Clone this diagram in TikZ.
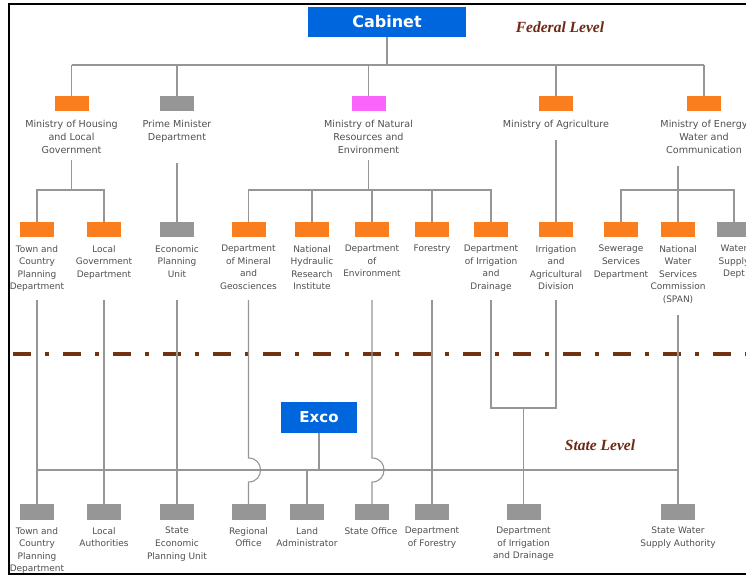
\documentclass[tikz,border=0pt]{standalone}
\usepackage{fontspec}
\setmainfont{DejaVu Sans}
\newfontfamily\titlefont{Liberation Serif}
\definecolor{orgbox}{RGB}{250,125,30}
\definecolor{greybox}{RGB}{150,150,150}
\definecolor{pinkbox}{RGB}{250,100,250}
\definecolor{bluebox}{RGB}{0,102,221}
\definecolor{linegrey}{RGB}{150,150,150}
\definecolor{txtgrey}{RGB}{80,80,80}
\definecolor{levelbrown}{RGB}{110,40,20}
\definecolor{dashbrown}{RGB}{115,50,15}
\begin{document}
\begin{tikzpicture}[x=1pt,y=-1pt,
  conn/.style={draw=linegrey, line width=1.1pt},
  ubox/.style={minimum width=34pt, minimum height=15pt, inner sep=0pt, fill=#1},
  lbox/.style={minimum width=34pt, minimum height=16pt, inner sep=0pt, fill=greybox},
  mlbl/.style={align=center, anchor=north, inner sep=0pt, text=txtgrey, font=\fontsize{9.6}{13}\selectfont},
  slbl/.style={align=center, anchor=north, inner sep=0pt, text=txtgrey, font=\fontsize{9}{12.6}\selectfont},
  head/.style={fill=bluebox, text=white, inner sep=0pt, font=\bfseries\fontsize{16}{18}\selectfont},
  levtxt/.style={inner sep=0pt, text=levelbrown, font=\titlefont\bfseries\itshape\fontsize{15.5}{18}\selectfont},
  ddash/.style={draw=dashbrown, line width=3.5pt, dash pattern=on 18pt off 14pt on 4pt off 14pt}
]
\useasboundingbox (0,0) rectangle (746,576);
\fill[white] (0,0) rectangle (746,576);

% ---------- Federal level
\node[head, minimum width=158pt, minimum height=30pt] (cab) at (387,22) {Cabinet};
\node[levtxt] (fed) at (560,27) {Federal Level};

\coordinate (busTL) at (71.5,65);
\coordinate (busTR) at (704,65);

\node[ubox=orgbox] (mHous) at (71.5,103.5) {};
\node[ubox=greybox] (mPM) at (177,103.5) {};
\node[ubox=pinkbox] (mNR) at (368.5,103.5) {};
\node[ubox=orgbox] (mAgr) at (556,103.5) {};
\node[ubox=orgbox] (mEn) at (704,103.5) {};

\node[mlbl] (tHous) at (71.5,120) {Ministry of Housing\\and Local\\Government};
\node[mlbl] (tPM) at (177,120) {Prime Minister\\Department};
\node[mlbl] (tNR) at (368.5,120) {Ministry of Natural\\Resources and\\Environment};
\node[mlbl] (tAgr) at (556,120) {Ministry of Agriculture};
\node[mlbl] (tEn) at (704,120) {Ministry of Energy\\Water and\\Communication};

\draw[conn] (cab.south) -- (cab.south |- busTL);
\draw[conn] (busTL) -- (busTR);
\foreach \n in {mHous,mPM,mNR,mAgr,mEn} \draw[conn] (\n.north) -- (\n.north |- busTL);

% ---------- departments
\node[ubox=orgbox] (sTC) at (37,229.5) {};
\node[ubox=orgbox] (sLG) at (104,229.5) {};
\node[ubox=greybox] (sEP) at (177,229.5) {};
\node[ubox=orgbox] (sMin) at (248.5,229.5) {};
\node[ubox=orgbox] (sNH) at (312,229.5) {};
\node[ubox=orgbox] (sEnv) at (372,229.5) {};
\node[ubox=orgbox] (sFor) at (432,229.5) {};
\node[ubox=orgbox] (sDID) at (491,229.5) {};
\node[ubox=orgbox] (sIAD) at (556,229.5) {};
\node[ubox=orgbox] (sSew) at (621,229.5) {};
\node[ubox=orgbox] (sSPAN) at (678,229.5) {};
\node[ubox=greybox] (sWSD) at (734,229.5) {};

\node[slbl] (tTC) at (37,245) {Town and\\Country\\Planning\\Department};
\node[slbl] (tLG) at (104,245) {Local\\Government\\Department};
\node[slbl] (tEP) at (177,245) {Economic\\Planning\\Unit};
\node[slbl] (tMin) at (248.5,245) {Department\\of Mineral\\and\\Geosciences};
\node[slbl] (tNH) at (312,245) {National\\Hydraulic\\Research\\Institute};
\node[slbl] (tEnv) at (372,245) {Department\\of\\Environment};
\node[slbl] (tFor) at (432,245) {Forestry};
\node[slbl] (tDID) at (491,245) {Department\\of Irrigation\\and\\Drainage};
\node[slbl] (tIAD) at (556,245) {Irrigation\\and\\Agricultural\\Division};
\node[slbl] (tSew) at (621,245) {Sewerage\\Services\\Department};
\node[slbl] (tSPAN) at (678,245) {National\\Water\\Services\\Commission\\(SPAN)};
\node[slbl] (tWSD) at (734,245) {Water\\Supply\\Dept};

% housing group
\coordinate (hTop) at (71.5,160);
\coordinate (hBus) at (71.5,190);
\draw[conn] (hTop) -- (hBus);
\draw[conn] (sTC.north) |- (sLG.north |- hBus) -- (sLG.north);
% PM
\coordinate (pmTop) at (177,163);
\draw[conn] (pmTop) -- (sEP.north);
% NR group
\coordinate (nrTop) at (368.5,160);
\coordinate (nrBus) at (368.5,190);
\draw[conn] (nrTop) -- (nrBus);
\draw[conn] (sMin.north) |- (sDID.north |- nrBus) -- (sDID.north);
\foreach \n in {sNH,sEnv,sFor} \draw[conn] (\n.north) -- (\n.north |- nrBus);
% Agriculture
\coordinate (agTop) at (556,140);
\draw[conn] (agTop) -- (sIAD.north);
% Energy group
\coordinate (enTop) at (678,166);
\coordinate (enBus) at (678,190);
\draw[conn] (enTop) -- (enBus);
\draw[conn] (sSew.north) |- (sWSD.north |- enBus) -- (sWSD.north);
\draw[conn] (sSPAN.north) -- (sSPAN.north |- enBus);

% ---------- dash-dot divider
\coordinate (ddL) at (13,354);
\coordinate (ddR) at (746,354);
\draw[ddash] (ddL) -- (ddR);

% ---------- State level
\node[head, minimum width=76pt, minimum height=31pt, font=\bfseries\fontsize{15}{17}\selectfont] (exco) at (319,417.5) {Exco};
\node[levtxt] (state) at (600,445) {State Level};

\node[lbox] (bTC) at (37,512) {};
\node[lbox] (bLA) at (104,512) {};
\node[lbox] (bSE) at (177,512) {};
\node[lbox] (bRO) at (248.5,512) {};
\node[lbox] (bLand) at (307,512) {};
\node[lbox] (bSO) at (372,512) {};
\node[lbox] (bDF) at (432,512) {};
\node[lbox] (bDID) at (523.5,512) {};
\node[lbox] (bSW) at (678,512) {};

\node[slbl] (uTC) at (37,527) {Town and\\Country\\Planning\\Department};
\node[slbl] (uLA) at (104,527) {Local\\Authorities};
\node[slbl] (uSE) at (177,527) {State\\Economic\\Planning Unit};
\node[slbl] (uRO) at (248.5,527) {Regional\\Office};
\node[slbl] (uLand) at (307,527) {Land\\Administrator};
\node[slbl] (uSO) at (371,527) {State Office};
\node[slbl] (uDF) at (432,527) {Department\\of Forestry};
\node[slbl] (uDID) at (523.5,527) {Department\\of Irrigation\\and Drainage};
\node[slbl] (uSW) at (678,527) {State Water\\Supply Authority};

\coordinate (stL) at (37,470);
\coordinate (stR) at (678,470);
\draw[conn] (stL) -- (stR);

\draw[conn] (tTC.south |- 0,300) -- (bTC.north);
\draw[conn] (tLG.south |- 0,300) -- (bLA.north);
\draw[conn] (tEP.south |- 0,300) -- (bSE.north);
\draw[conn] (tMin.south |- 0,300) -- (tMin.south |- 0,458)
   .. controls +(16,0) and +(16,0) .. (tMin.south |- 0,482) -- (bRO.north);
\draw[conn] (tEnv.south |- 0,300) -- (tEnv.south |- 0,458)
   .. controls +(16,0) and +(16,0) .. (tEnv.south |- 0,482) -- (bSO.north);
\draw[conn] (tFor.south |- 0,300) -- (bDF.north);
\draw[conn] (tDID.south |- 0,300) |- (tIAD.south |- 0,408) -- (tIAD.south |- 0,300);
\draw[conn] (bDID.north |- 0,408) -- (bDID.north);
\draw[conn] (tSPAN.south |- 0,315) -- (bSW.north);
\draw[conn] (exco.south) -- (exco.south |- stL);
\draw[conn] (bLand.north) -- (bLand.north |- stL);

% ---------- frame
\draw[black, line width=1.6pt] (760,4) -- (9,4) -- (9,574) -- (760,574);
\end{tikzpicture}
\end{document}
